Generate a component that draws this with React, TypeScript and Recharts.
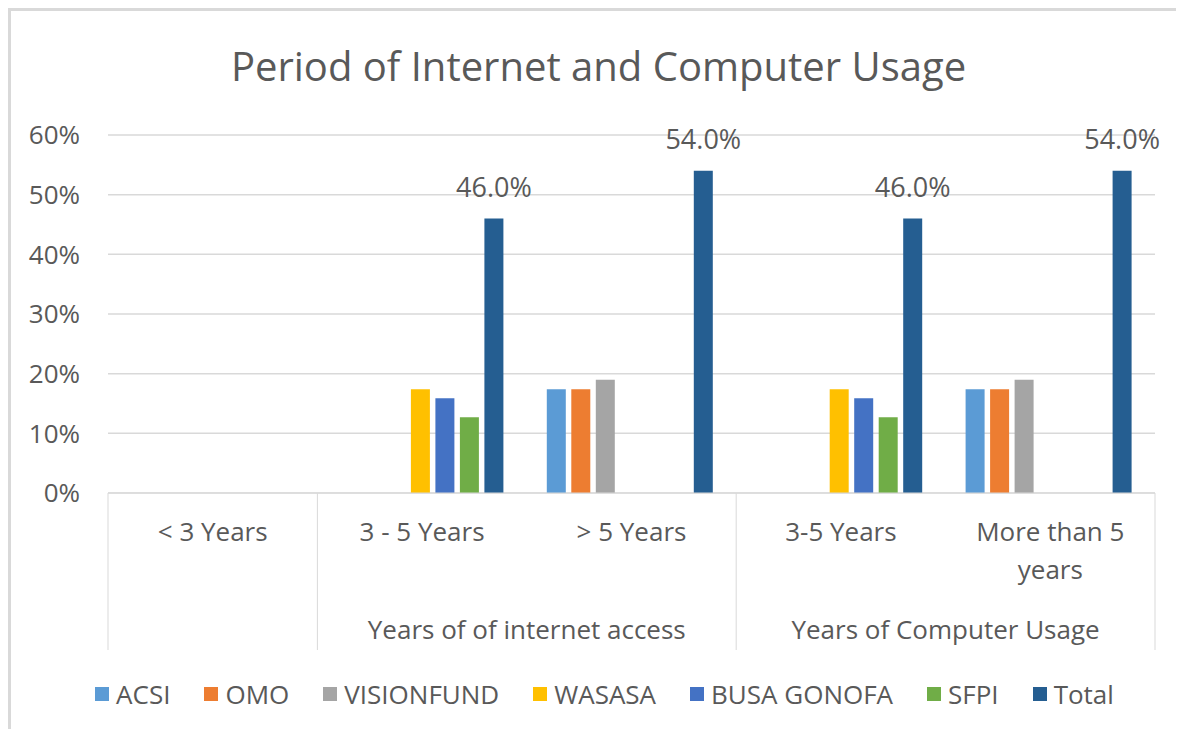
import React from "react";
import { BarChart, Bar, XAxis, YAxis, CartesianGrid, Legend, LabelList } from "recharts";

// "\n" marks where the axis label wraps, as in the source chart
const categories = ["< 3 Years", "3 - 5 Years", "> 5 Years", "3-5 Years", "More than 5\nyears"];
const groups = [
    { name: "", span: 1 },
    { name: "Years of of internet access", span: 2 },
    { name: "Years of Computer Usage", span: 2 },
];
const seriesNames = ["ACSI", "OMO", "VISIONFUND", "WASASA", "BUSA GONOFA", "SFPI", "Total"];
const seriesColors = ["#5B9BD5", "#ED7D31", "#A5A5A5", "#FFC000", "#4472C4", "#70AD47", "#255E91"];

const acsi = [null, null, 17.4, null, 17.4];
const omo = [null, null, 17.4, null, 17.4];
const visionfund = [null, null, 19.0, null, 19.0];
const wasasa = [null, 17.4, null, 17.4, null];
const busaGonofa = [null, 15.9, null, 15.9, null];
const sfpi = [null, 12.7, null, 12.7, null];
const total = [null, 46.0, 54.0, 46.0, 54.0];

const yTicks = [0, 10, 20, 30, 40, 50, 60];

const seriesValues = [acsi, omo, visionfund, wasasa, busaGonofa, sfpi, total];
const data = categories.map((c, i) => {
    const row: Record<string, any> = { category: c };
    seriesNames.forEach((s, k) => { row[s] = seriesValues[k][i]; });
    return row;
});

const FONT = "'Open Sans', sans-serif";
const TEXT = "#595959";
const GRID = "#d9d9d9";
const FS = 26;

const W = 1165;
const H = 718;
const M = { top: 124, right: 21, left: 17, bottom: 0 };
const Y_W = 80;
const AXIS_H = 157;
const PLOT_H = 358;
const LEGEND_H = H - M.top - PLOT_H - AXIS_H - M.bottom;
const PLOT_W = W - M.left - M.right - Y_W;
const BAND = PLOT_W / categories.length;

// group start index for each group
const groupStarts: number[] = [];
groups.reduce((acc, g) => { groupStarts.push(acc); return acc + g.span; }, 0);

function CategoryTick(props: any) {
    const { x, y, payload, index } = props;
    const left = x - BAND / 2;
    const gi = groupStarts.indexOf(index);
    const g = gi >= 0 ? groups[gi] : null;
    const lines = String(payload.value).split("\n");
    return (
        <g>
            {g && <line x1={left} y1={y} x2={left} y2={y + AXIS_H} stroke={GRID} strokeWidth={1} />}
            {index === categories.length - 1 && (
                <line x1={left + BAND} y1={y} x2={left + BAND} y2={y + AXIS_H} stroke={GRID} strokeWidth={1} />
            )}
            <text x={x} y={y + 48} textAnchor="middle" fill={TEXT} fontSize={FS} fontFamily={FONT}>
                {lines.map((l, k) => (
                    <tspan key={k} x={x} dy={k === 0 ? 0 : 38}>{l}</tspan>
                ))}
            </text>
            {g && g.name && (
                <text
                    x={left + (g.span * BAND) / 2}
                    y={y + 146}
                    textAnchor="middle"
                    fill={TEXT}
                    fontSize={FS}
                    fontFamily={FONT}
                >
                    {g.name}
                </text>
            )}
        </g>
    );
}

function LegendContent() {
    return (
        <div
            style={{
                height: LEGEND_H,
                display: "flex",
                justifyContent: "center",
                alignItems: "center",
                gap: 34,
                paddingTop: 8,
                paddingLeft: 26,
                boxSizing: "border-box",
                fontFamily: FONT,
                fontSize: FS,
                color: TEXT,
            }}
        >
            {seriesNames.map((s, i) => (
                <div key={s} style={{ display: "flex", alignItems: "center", gap: 7 }}>
                    <span style={{ width: 14, height: 14, background: seriesColors[i], display: "inline-block" }} />
                    <span>{s}</span>
                </div>
            ))}
        </div>
    );
}

export default function App() {
    return (
        <div
            style={{
                position: "relative",
                width: W,
                height: H,
                borderLeft: "3px solid #d9d9d9",
                borderTop: "3px solid #d9d9d9",
                background: "#fff",
            }}
        >
            <div
                style={{
                    position: "absolute",
                    top: 30,
                    left: 5,
                    width: W,
                    textAlign: "center",
                    fontFamily: FONT,
                    fontSize: 40,
                    color: TEXT,
                    lineHeight: "50px",
                }}
            >
                Period of Internet and Computer Usage
            </div>
            <BarChart
                width={W}
                height={H}
                data={data}
                margin={M}
                barCategoryGap={20}
                barGap={5.5}
                style={{ position: "absolute", top: 0, left: 0 }}
            >
                <CartesianGrid vertical={false} stroke={GRID} strokeWidth={1.5} />
                <XAxis
                    dataKey="category"
                    height={AXIS_H}
                    axisLine={{ stroke: GRID }}
                    tickLine={false}
                    tickSize={0}
                    tickMargin={0}
                    interval={0}
                    tick={<CategoryTick />}
                />
                <YAxis
                    width={Y_W}
                    domain={[0, 60]}
                    ticks={yTicks}
                    axisLine={false}
                    tickLine={false}
                    tickSize={0}
                    tickMargin={28}
                    tickFormatter={(v) => `${v}%`}
                    tick={{ fill: TEXT, fontSize: FS, fontFamily: FONT }}
                />
                <Legend verticalAlign="bottom" height={LEGEND_H} content={<LegendContent />} />
                {seriesNames.map((s, i) => (
                    <Bar key={s} dataKey={s} fill={seriesColors[i]} isAnimationActive={false}>
                        {s === "Total" && (
                            <LabelList
                                dataKey="Total"
                                position="top"
                                offset={22}
                                fill={TEXT}
                                fontSize={27}
                                fontFamily={FONT}
                                formatter={(v: any) => (v == null ? "" : `${Number(v).toFixed(1)}%`)}
                            />
                        )}
                    </Bar>
                ))}
            </BarChart>
        </div>
    );
}
